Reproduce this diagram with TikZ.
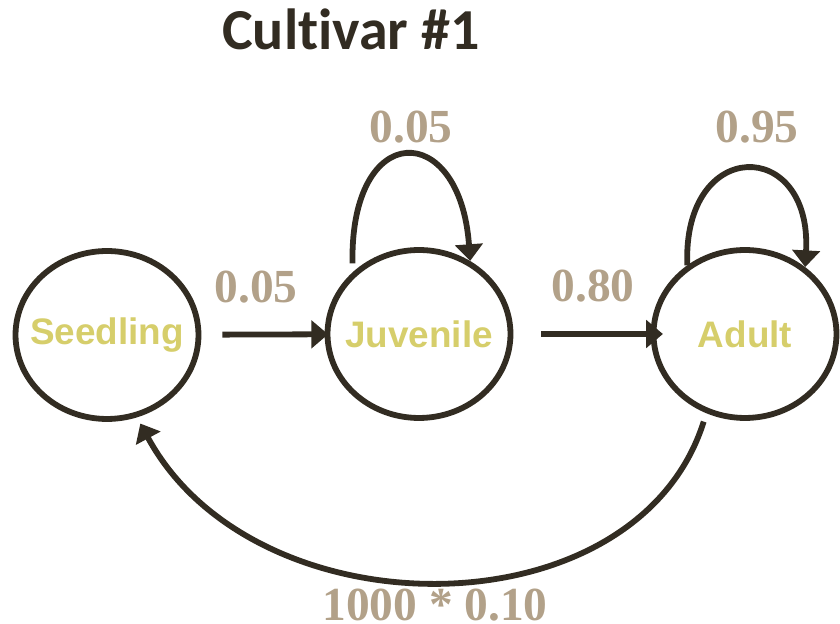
\documentclass[tikz,border=0pt]{standalone}
\usepackage{fontspec}
\setmainfont{Liberation Serif}
\newfontfamily\titlefont[Ligatures=NoCommon]{Carlito}
\newfontfamily\stagefont{Liberation Sans}
\usetikzlibrary{shapes.geometric,arrows.meta}
\definecolor{lineDark}{HTML}{322C22}
\definecolor{probTan}{HTML}{B2A189}
\definecolor{stageYellow}{HTML}{D6CE6B}
% keep the stage name from widening the ellipse
\newcommand{\stagename}[1]{\makebox[0pt]{#1}}

\begin{document}
\begin{tikzpicture}[x=0.02cm,y=-0.02cm,
  stage/.style={draw=lineDark,line width=3.3pt,ellipse,minimum width=3.66cm,minimum height=3.36cm,inner sep=0pt,text=stageYellow,font=\stagefont\bfseries\fontsize{21}{24}\selectfont},
  flow/.style={draw=lineDark,line width=3.3pt,-{Triangle[length=9.5pt,width=15.5pt]}},
  prob/.style={text=probTan,font=\bfseries\fontsize{27}{30}\selectfont,inner sep=0pt}]
  \useasboundingbox (0,0) rectangle (840,624);
  \node[font=\titlefont\bfseries\fontsize{33}{36}\selectfont,text=lineDark,inner sep=0pt] (title) at (351,29) {Cultivar \#1};
  % life stages
  \node[stage] (seed) at (107,335) {\stagename{Seedling}};
  \node[stage] (juv) at (419,334) {\stagename{Juvenile}};
  \node[stage] (adult) at (745,334) {\stagename{Adult}};
  % transitions
  \draw[flow,shorten <=12pt,shorten >=-2pt] (seed) -- (juv);
  \draw[flow,shorten <=16pt,shorten >=-7pt] (juv) -- (adult);
  \draw[flow,shorten <=5pt] (juv.137) .. controls +(-3,-153) and +(-10,-142) .. (juv.55);
  \draw[flow] (adult.130) .. controls +(-5,-129) and +(7,-130) .. (adult.48);
  \draw[flow,shorten <=5pt,shorten >=4pt] (adult.244) .. controls +(-70,222) and +(118,218) .. (seed.290);
  % probabilities
  \node[prob] (pSJ) at (256,287) {0.05};
  \node[prob] (pJJ) at (411,127) {0.05};
  \node[prob] (pJA) at (593,286) {0.80};
  \node[prob] (pAA) at (757,127) {0.95};
  \node[prob] (pAS) at (435,605) {1000 * 0.10};
\end{tikzpicture}
\end{document}
